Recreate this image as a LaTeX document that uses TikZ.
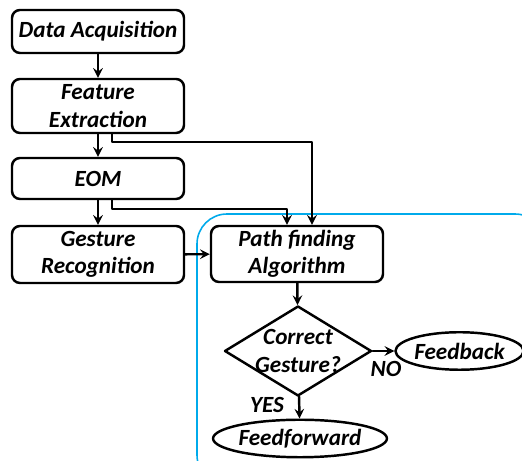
\documentclass[tikz,border=0pt]{standalone}
\usepackage{fontspec}
\setmainfont{Carlito}
\usetikzlibrary{shapes.geometric}
\definecolor{loopblue}{RGB}{0,170,235}
\tikzset{
  stepbox/.style={draw,rounded corners=0.16cm,minimum width=3.44cm,align=center,inner sep=0pt},
  decision/.style={draw,diamond,aspect=1.63,minimum width=2.94cm,minimum height=1.8cm,inner sep=-0.12cm,align=center},
  outcome/.style={draw,ellipse,minimum height=0.75cm,inner sep=0pt},
  lbl/.style={inner sep=0pt}
}
\begin{document}
\begin{tikzpicture}[line cap=round,line join=round,>=stealth,line width=1.4pt,
  font=\fontsize{13.2}{15.5}\selectfont\bfseries\itshape]
  \useasboundingbox (0,0) rectangle (10.44,-9.22);
  % feedback loop frame
  \begin{scope}
    \clip (0,0) rectangle (10.44,-9.22);
    \draw[loopblue,line width=0.9pt,rounded corners=0.6cm] (3.94,-4.28) rectangle (10.9,-9.7);
  \end{scope}
  % processing chain
  \node[stepbox,minimum height=0.86cm] (da) at (1.96,-0.63) {Data Acquisition};
  \node[stepbox,minimum height=1.08cm] (fe) at (1.96,-2.12) {Feature\\Extraction};
  \node[stepbox,minimum height=0.82cm] (eom) at (1.96,-3.57) {EOM};
  \node[stepbox,minimum height=1.14cm] (gr) at (1.96,-5.09) {Gesture\\Recognition};
  \node[stepbox,minimum height=1.12cm] (pf) at (5.94,-5.08) {Path finding\\Algorithm};
  \node[decision] (cg) at (5.96,-7.02) {Correct\\Gesture?};
  \node[outcome,minimum width=2.46cm] (fb) at (9.19,-7.02) {Feedback};
  \node[outcome,minimum width=3.2cm] (ff) at (6,-8.77) {Feedforward};
  \node[lbl] (no) at (7.72,-7.38) {NO};
  \node[lbl] (yes) at (5.34,-8.1) {YES};
  % arrows
  \draw[->] (da) -- (fe);
  \draw[->] (fe) -- (eom);
  \draw[->] (eom) -- (gr);
  \draw[->] ([xshift=0.28cm]fe.south) -- ++(0,-0.16) -| ([xshift=0.3cm]pf.north);
  \draw[->] ([xshift=0.28cm]eom.south) -- ++(0,-0.18) -| ([xshift=-0.2cm]pf.north);
  \draw[->] (gr) -- (pf);
  \draw[->] (pf) -- (cg);
  \draw[->] (cg) -- (fb);
  \draw[->] (cg) -- (ff);
\end{tikzpicture}
\end{document}
